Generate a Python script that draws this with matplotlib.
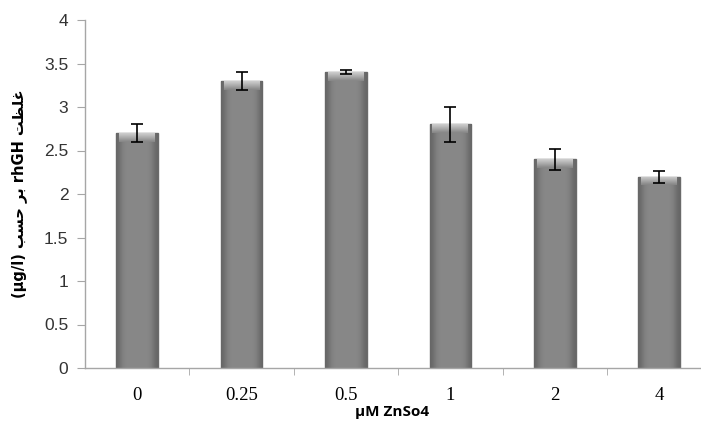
import numpy as np
import matplotlib
matplotlib.use("Agg")
import matplotlib.pyplot as plt

# data
doses = ['0', '0.25', '0.5', '1', '2', '4']
rhgh = [2.7, 3.3, 3.4, 2.8, 2.4, 2.2]
err = [0.1, 0.1, 0.02, 0.2, 0.12, 0.07]

# persian ylabel written in visual order with presentation forms
fa_hasab = '\uFE90\uFEB4\uFEA3'
fa_bar = '\uFEAE\uFE91'
fa_ghelzat = '\uFE96\uFEC8\uFEE0\uFECF'
ylabel = '(µg/l) ' + fa_hasab + ' ' + fa_bar + ' rhGH ' + fa_ghelzat

fig = plt.figure(figsize=(7.01, 4.32), dpi=100)
ax = fig.add_axes([85 / 701, 64 / 432, (701 - 85) / 701, 348 / 432])

x = np.arange(len(doses))
bars = ax.bar(x, rhgh, width=0.40, color='#878787', edgecolor='#6a6a6a',
              linewidth=1.0, zorder=2)

# flat body with darker sides, like the original bevelled bars
grad = np.array([0.40, 0.47, 0.52, 0.53, 0.53, 0.53, 0.53, 0.53, 0.53, 0.53,
                 0.52, 0.47, 0.40])
cmap = plt.get_cmap('gray')
for b in bars:
    x0, y0 = b.get_x(), b.get_y()
    w, h = b.get_width(), b.get_height()
    im = ax.imshow(grad[None, :], cmap=cmap, vmin=0, vmax=1, aspect='auto',
                   extent=[x0, x0 + w, y0, y0 + h], zorder=2.5,
                   interpolation='bicubic')
    im.set_clip_path(b)
    # light top bevel
    bev = np.linspace(0.53, 0.80, 8)[:, None] * np.ones((1, 5))
    im2 = ax.imshow(bev, cmap=cmap, vmin=0, vmax=1, aspect='auto',
                    extent=[x0 + w * 0.07, x0 + w * 0.93, y0 + h - 0.1, y0 + h],
                    origin='lower', zorder=2.6, interpolation='bicubic')
    im2.set_clip_path(b)

ax.errorbar(x, rhgh, yerr=err, fmt='none', ecolor='black', elinewidth=1.2,
            capsize=4.5, capthick=1.2, zorder=4)

ax.set_xlim(-0.5, -0.5 + (701 - 85) / 104.4)
ax.set_ylim(0, 4)
ax.set_yticks(np.arange(0, 4.01, 0.5))
ax.set_yticklabels(['0', '0.5', '1', '1.5', '2', '2.5', '3', '3.5', '4'],
                   family='Liberation Sans', fontsize=12.5, color='#333333')
ax.set_xticks(x)
ax.set_xticklabels(doses, family='Liberation Serif', fontsize=13.5)
ax.set_xticks(np.arange(0.5, 5.0, 1.0), minor=True)
ax.tick_params(axis='x', which='major', length=0, pad=14)
ax.tick_params(axis='x', which='minor', length=5, color='#a6a6a6', direction='out')
ax.tick_params(axis='y', length=6, color='#a6a6a6', pad=6)

for s in ['top', 'right']:
    ax.spines[s].set_visible(False)
for s in ['left', 'bottom']:
    ax.spines[s].set_color('#a6a6a6')
    ax.spines[s].set_linewidth(1.0)

ax.set_xlabel('µM ZnSo4', family='Open Sans', fontweight='bold', fontsize=11)
ax.xaxis.set_label_coords(0.498, -0.126)
ax.xaxis.label.set_va('center')
ax.set_ylabel(ylabel, family=['DejaVu Sans'], fontweight='bold', fontsize=10.5,
              labelpad=12)

fig.savefig('out.png', dpi=100)
